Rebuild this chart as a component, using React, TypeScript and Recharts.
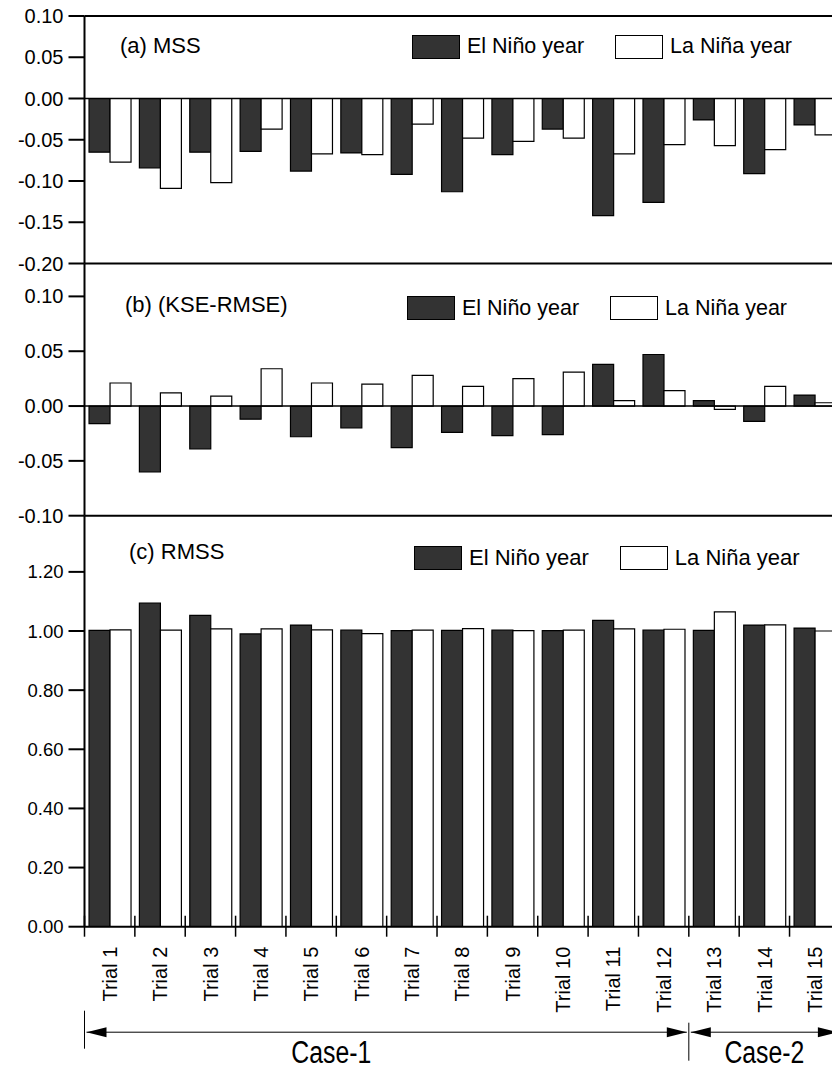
import React from "react";
import { BarChart, Bar, XAxis, YAxis, ReferenceLine, Legend } from "recharts";

// category labels
const trials = [
  "Trial 1", "Trial 2", "Trial 3", "Trial 4", "Trial 5", "Trial 6", "Trial 7", "Trial 8",
  "Trial 9", "Trial 10", "Trial 11", "Trial 12", "Trial 13", "Trial 14", "Trial 15",
];

// (a) MSS
const mssElNino = [-0.065, -0.084, -0.065, -0.064, -0.088, -0.066, -0.092, -0.113, -0.068, -0.037, -0.142, -0.126, -0.026, -0.091, -0.032];
const mssLaNina = [-0.077, -0.109, -0.102, -0.037, -0.067, -0.068, -0.031, -0.048, -0.052, -0.048, -0.067, -0.056, -0.057, -0.062, -0.044];

// (b) KSE-RMSE
const kseElNino = [-0.016, -0.060, -0.039, -0.012, -0.028, -0.020, -0.038, -0.024, -0.027, -0.026, 0.038, 0.047, 0.005, -0.014, 0.010];
const kseLaNina = [0.021, 0.012, 0.009, 0.034, 0.021, 0.020, 0.028, 0.018, 0.025, 0.031, 0.005, 0.014, -0.003, 0.018, 0.003];

// (c) RMSS
const rmssElNino = [1.002, 1.094, 1.053, 0.990, 1.020, 1.003, 1.001, 1.002, 1.003, 1.001, 1.036, 1.003, 1.002, 1.020, 1.010];
const rmssLaNina = [1.004, 1.003, 1.007, 1.007, 1.004, 0.991, 1.003, 1.008, 1.001, 1.003, 1.007, 1.006, 1.065, 1.021, 1.000];

const mssTicks = [0.1, 0.05, 0, -0.05, -0.1, -0.15, -0.2];
const kseTicks = [0.1, 0.05, 0, -0.05, -0.1];
const rmssTicks = [0, 0.2, 0.4, 0.6, 0.8, 1.0, 1.2];

const cases = [
  { label: "Case-1", first: 0, last: 11 },
  { label: "Case-2", first: 12, last: 14 },
];

// layout
const FONT = '"Liberation Sans", Arial, Helvetica, sans-serif';
const CHART_W = 860;
const AXIS_W = 84.5;
const PLOT_W = 755.4;
const HALF_BAND = PLOT_W / trials.length / 2;
const CASE_LABEL_AT = [4.9, 1.5]; // label centre, in bands from case start

const toRows = (a: number[], b: number[]) =>
  trials.map((t, i) => ({ trial: t, elNino: a[i], laNina: b[i] }));

const LegendBox = ({ payload, fontSize }: any) => (
  <div style={{ display: "flex", alignItems: "center", fontFamily: FONT, fontSize, color: "#000" }}>
    {(payload || []).map((p: any, i: number) => (
      <div key={i} style={{ display: "flex", alignItems: "center", marginRight: 31 }}>
        <span style={{ width: 46, height: 22, background: p.color, border: "1.5px solid #000", marginRight: 7 }} />
        <span style={{ whiteSpace: "nowrap" }}>{p.value}</span>
      </div>
    ))}
  </div>
);

const AxisTick = (props: any) => {
  const { x, y, payload, index, bottom } = props;
  const half = payload && typeof payload.offset === "number" && payload.offset > 0 ? payload.offset : HALF_BAND;
  const bx = x - half;
  if (!bottom) {
    return <line x1={bx} x2={bx} y1={y} y2={y - 10} stroke="#000" strokeWidth={1.5} />;
  }
  const cs = cases.find((c) => c.first === index);
  const ci = cases.findIndex((c) => c.first === index);
  let bracket = null;
  if (cs) {
    const ex = bx + (cs.last - cs.first + 1) * half * 2;
    const ay = y + 105.5;
    const lx = bx + CASE_LABEL_AT[ci] * half * 2;
    const top = ci === 0 ? y + 84 : y + 96;
    bracket = (
      <g>
        <line x1={bx} x2={bx} y1={top} y2={top + 38} stroke="#000" strokeWidth={1} />
        <line x1={bx + 2} x2={ex - 2} y1={ay} y2={ay} stroke="#000" strokeWidth={1} />
        <polygon points={`${bx + 2},${ay} ${bx + 22},${ay - 5} ${bx + 22},${ay + 5}`} fill="#000" />
        <polygon points={`${ex - 2},${ay} ${ex - 22},${ay - 5} ${ex - 22},${ay + 5}`} fill="#000" />
        <text
          transform={`translate(${lx},${y + 136}) scale(0.8,1)`}
          textAnchor="middle"
          fontFamily={FONT}
          fontSize={31}
          fill="#000"
        >
          {cs.label}
        </text>
      </g>
    );
  }
  return (
    <g>
      <line x1={bx} x2={bx} y1={y - 11} y2={y + 10} stroke="#000" strokeWidth={1.5} />
      <text
        x={x}
        y={y + 20}
        dy="0.36em"
        transform={`rotate(-90, ${x}, ${y + 20})`}
        textAnchor="end"
        fontFamily={FONT}
        fontSize={20}
        fill="#000"
      >
        {payload.value}
      </text>
      {bracket}
    </g>
  );
};

type PanelProps = {
  top: number;
  height: number;
  marginTop: number;
  marginBottom: number;
  axisHeight: number;
  rows: any[];
  domain: [number, number];
  ticks: number[];
  zeroLine: boolean;
  bottom: boolean;
  tickFont: number;
  legendFont: number;
  legendLeft: number;
  legendTop: number;
};

function Panel(p: PanelProps) {
  return (
    <div style={{ position: "absolute", left: 0, top: p.top }}>
      <BarChart
        width={CHART_W}
        height={p.height}
        data={p.rows}
        margin={{ top: p.marginTop, right: CHART_W - AXIS_W - PLOT_W, bottom: p.marginBottom, left: 0 }}
        barCategoryGap="9%"
        barGap={0}
      >
        <XAxis
          dataKey="trial"
          interval={0}
          height={p.axisHeight}
          tickSize={0}
          tickMargin={0}
          tickLine={false}
          axisLine={{ stroke: "#000", strokeWidth: 2 }}
          tick={(tp: any) => <AxisTick {...tp} bottom={p.bottom} />}
        />
        <YAxis
          type="number"
          domain={p.domain}
          ticks={p.ticks}
          allowDataOverflow
          width={AXIS_W}
          tickSize={16}
          tickMargin={5}
          tickFormatter={(v: number) => v.toFixed(2)}
          axisLine={{ stroke: "#000", strokeWidth: 2 }}
          tickLine={{ stroke: "#000", strokeWidth: 2 }}
          tick={{ fill: "#000", fontSize: p.tickFont, fontFamily: FONT }}
        />
        <Legend
          layout="horizontal"
          verticalAlign="middle"
          align="center"
          wrapperStyle={{ position: "absolute", left: p.legendLeft, top: p.legendTop, width: "auto" }}
          content={(lp: any) => <LegendBox {...lp} fontSize={p.legendFont} />}
        />
        <Bar dataKey="elNino" name="El Niño year" fill="#333333" stroke="#000" strokeWidth={1.2} isAnimationActive={false} />
        <Bar dataKey="laNina" name="La Niña year" fill="#ffffff" stroke="#000" strokeWidth={1.2} isAnimationActive={false} />
        {p.zeroLine && <ReferenceLine y={0} stroke="#000" strokeWidth={1.5} />}
        <ReferenceLine y={p.domain[1]} stroke="#000" strokeWidth={2} />
      </BarChart>
    </div>
  );
}

const titleStyle = (left: number, baseline: number): React.CSSProperties => ({
  position: "absolute",
  left,
  top: baseline - 18.6,
  fontFamily: FONT,
  fontSize: 22,
  lineHeight: "22px",
  color: "#000",
  whiteSpace: "nowrap",
});

export default function App() {
  return (
    <div
      style={{
        position: "fixed",
        left: 0,
        top: 0,
        width: 832,
        height: 1068,
        overflow: "hidden",
        background: "#fff",
      }}
    >
      <Panel
        top={0}
        height={290}
        marginTop={16}
        marginBottom={26.5}
        axisHeight={0}
        rows={toRows(mssElNino, mssLaNina)}
        domain={[-0.2, 0.1]}
        ticks={mssTicks}
        zeroLine
        bottom={false}
        tickFont={20}
        legendFont={21.5}
        legendLeft={412}
        legendTop={34}
      />
      <Panel
        top={250}
        height={290}
        marginTop={13.5}
        marginBottom={24.3}
        axisHeight={0}
        rows={toRows(kseElNino, kseLaNina)}
        domain={[-0.1, 0.13]}
        ticks={kseTicks}
        zeroLine
        bottom={false}
        tickFont={20}
        legendFont={21.5}
        legendLeft={407}
        legendTop={45.7}
      />
      <Panel
        top={500}
        height={568}
        marginTop={15.7}
        marginBottom={0}
        axisHeight={141.3}
        rows={toRows(rmssElNino, rmssLaNina)}
        domain={[0, 1.39]}
        ticks={rmssTicks}
        zeroLine={false}
        bottom
        tickFont={18.5}
        legendFont={22}
        legendLeft={414}
        legendTop={45}
      />
      <div style={titleStyle(120, 54)}>(a) MSS</div>
      <div style={titleStyle(125, 313)}>(b) (KSE-RMSE)</div>
      <div style={titleStyle(129, 560)}>(c) RMSS</div>
    </div>
  );
}
